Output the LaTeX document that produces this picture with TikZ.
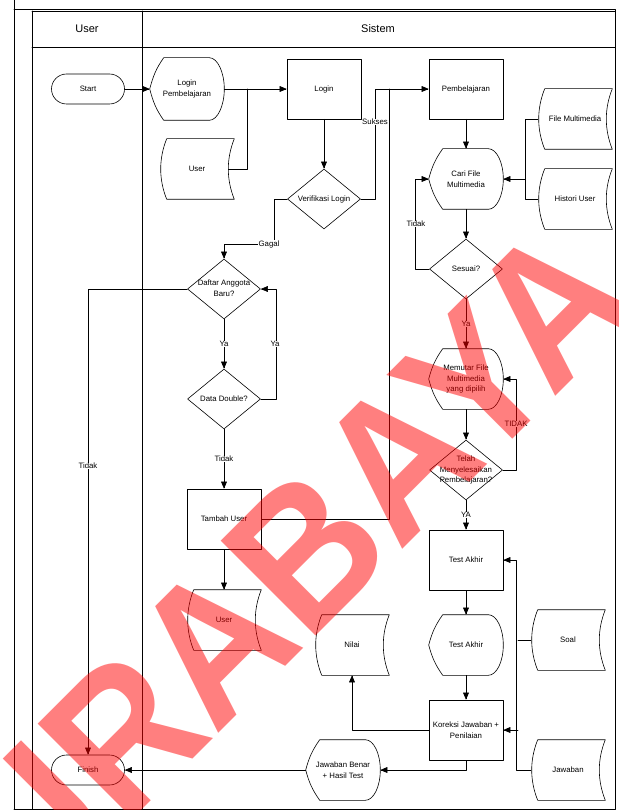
\documentclass[tikz,border=0pt]{standalone}
\usepackage{fontspec}
\setmainfont{Liberation Sans}
\usepackage{tikz}
\usetikzlibrary{arrows}
\usetikzlibrary{shapes.geometric}
\newcommand{\dtxt}[1]{\makebox[0pt]{\begin{tabular}{@{}c@{}}#1\end{tabular}}}

\begin{document}
\begin{tikzpicture}[line cap=round,line join=round,>=triangle 45,x=1pt,y=1pt,semithick,
    every node/.style={font=\fontsize{7.8}{10.5}\selectfont},
    terminal/.style={draw,rounded corners=15pt,minimum width=73pt,minimum height=30pt},
    proses/.style={draw,minimum width=74pt,minimum height=60pt,align=center,inner sep=1pt},
    keputusan/.style={draw,diamond,minimum width=73pt,minimum height=60pt,inner sep=0pt},
    tampil/.style={minimum width=74pt,minimum height=60pt,align=center,inner sep=1pt},
    simpan/.style={minimum width=74pt,minimum height=60pt,align=center,inner sep=1pt},
    ket/.style={fill=white,inner sep=0.5pt}]
        \useasboundingbox (0,0) rectangle (618,-810);
        % kolom
        \draw[thick] (14,0) -- (14,-810);
        \draw[thick] (14,-9) -- (615,-9) -- (615,-809) -- (14,-809);
        \draw[thick] (32,-11) -- (615,-11);
        \draw[thick] (32,-47) -- (615,-47);
        \draw[thick] (32,-11) -- (32,-809);
        \draw[thick] (142,-11) -- (142,-809);
        \node[font=\fontsize{11}{13}\selectfont] (kolUser) at (87,-29) {User};
        \node[font=\fontsize{11}{13}\selectfont] (kolSistem) at (378,-29) {Sistem};
        % simbol
        \node[terminal] (start) at (88,-89) {Start};
        \node[terminal] (finish) at (88,-770) {Finish};
        \node[tampil,minimum height=62pt] (lp) at (187,-89) {Login\\Pembelajaran};
        \node[simpan] (userA) at (197,-169) {User};
        \node[proses] (login) at (324,-89) {Login};
        \node[keputusan] (verif) at (324,-199) {\dtxt{Verifikasi Login}};
        \node[proses] (belajar) at (466,-89) {Pembelajaran};
        \node[simpan] (filemm) at (575,-119) {File Multimedia};
        \node[simpan] (histori) at (575,-199) {Histori User};
        \node[tampil] (cari) at (466,-179) {Cari File\\Multimedia};
        \node[keputusan] (sesuai) at (466,-269) {\dtxt{Sesuai?}};
        \node[tampil] (memutar) at (466,-379) {Memutar File\\Multimedia\\yang dipilih};
        \node[keputusan] (telah) at (466,-470) {\dtxt{Telah\\Menyelesaikan\\Pembelajaran?}};
        \node[proses] (akhir) at (466,-560) {Test Akhir};
        \node[tampil] (akhird) at (466,-645) {Test Akhir};
        \node[proses] (koreksi) at (466,-730) {Koreksi Jawaban +\\Penilaian};
        \node[simpan] (soal) at (568,-640) {Soal};
        \node[simpan] (jawaban) at (568,-770) {Jawaban};
        \node[tampil] (hasil) at (343,-770) {Jawaban Benar\\+ Hasil Test};
        \node[keputusan] (daftar) at (224,-289) {\dtxt{Daftar Anggota\\Baru?}};
        \node[keputusan] (double) at (224,-399) {\dtxt{Data Double?}};
        \node[proses] (tambah) at (224,-519) {Tambah User};
        \node[simpan] (userB) at (224,-620) {User};
        \node[simpan] (nilai) at (352,-645) {Nilai};
        % garis tepi display dan stored data
        \foreach \n in {lp,cari,memutar,akhird,hasil}
        \draw ([xshift=14pt]\n.north west) -- ([xshift=-15pt]\n.north east)
            .. controls +(8.3,0) and +(0,16.6) .. (\n.east)
            .. controls +(0,-16.6) and +(8.3,0) .. ([xshift=-15pt]\n.south east)
            -- ([xshift=14pt]\n.south west) to[out=125,in=-75] (\n.west)
            to[out=75,in=235] ([xshift=14pt]\n.north west) -- cycle;
        \foreach \n in {userA,userB,nilai,filemm,histori,soal,jawaban}
        \draw ([xshift=7pt]\n.north west) -- (\n.north east)
            .. controls +(-8,-20) and +(-8,20) .. (\n.south east)
            -- ([xshift=7pt]\n.south west)
            .. controls +(-8,20) and +(-8,-20) .. ([xshift=7pt]\n.north west) -- cycle;
        % alur
        \coordinate (j1) at (247,-89);
        \coordinate (j2) at (375,-89);
        \coordinate (j3) at (389,-89);
        \coordinate (j4) at (525,-179);
        \coordinate (j5) at (518,-640);
        \draw[->] (start) -- (lp);
        \draw[->] (lp) -- (login);
        \draw ([xshift=-6pt]userA.east) -| (j1);
        \draw[->] (login) -- (verif);
        \draw[->] (verif.east) -| (j2) -- (belajar.west);
        \draw (tambah.east) -| (j3);
        \draw[->] (verif.west) -| (274,-244) -| (daftar.north);
        \draw[->] (belajar) -- (cari);
        \draw[->] (filemm.west) -| (j4) -- (cari.east);
        \draw (histori.west) -| (j4);
        \draw[->] (cari) -- (sesuai);
        \draw[->] (sesuai.west) -- ++(-14,0) |- (cari.west);
        \draw[->] (sesuai) -- (memutar);
        \draw[->] (memutar) -- (telah);
        \draw[->] (telah.east) -- ++(13,0) |- (memutar.east);
        \draw[->] (telah) -- (akhir);
        \draw[->] (akhir) -- (akhird);
        \draw[->] (akhird) -- (koreksi);
        \draw[->] (jawaban.west) -- ++(-14,0) |- (akhir.east);
        \draw (soal.west) -- (j5);
        \draw[->] (j5 |- koreksi.east) -- (koreksi.east);
        \draw[->] (koreksi.west) -| (nilai.south);
        \draw[->] (koreksi.south) |- (hasil.east);
        \draw[->] (hasil) -- (finish);
        \draw[->] (daftar.west) -| (finish.north);
        \draw[->] (daftar) -- (double);
        \draw[->] (double.east) -- ++(15,0) |- (daftar.east);
        \draw[->] (double) -- (tambah);
        \draw[->] (tambah) -- (userB);
        % keterangan
        \node[ket] (kSukses) at (375,-122) {Sukses};
        \node[ket] (kGagal) at (269,-244) {Gagal};
        \node[ket] (kTidak1) at (416,-224) {Tidak};
        \node[ket] (kYa1) at (466,-324) {Ya};
        \node[ket] (kTidak2) at (516,-424) {TIDAK};
        \node[ket] (kYa2) at (466,-515) {YA};
        \node[ket] (kYa3) at (224,-344) {Ya};
        \node[ket] (kYa4) at (275,-344) {Ya};
        \node[ket] (kTidak3) at (224,-459) {Tidak};
        \node[ket] (kTidak4) at (88,-466) {Tidak};
        % tanda air
        \node[rotate=45,xscale=0.92,anchor=base west,inner sep=0pt,text=red,text opacity=0.5,
            font=\fontsize{195}{195}\selectfont\bfseries] (tandaAir) at (-52,-1004) {SURABAYA};
\end{tikzpicture}
\end{document}
